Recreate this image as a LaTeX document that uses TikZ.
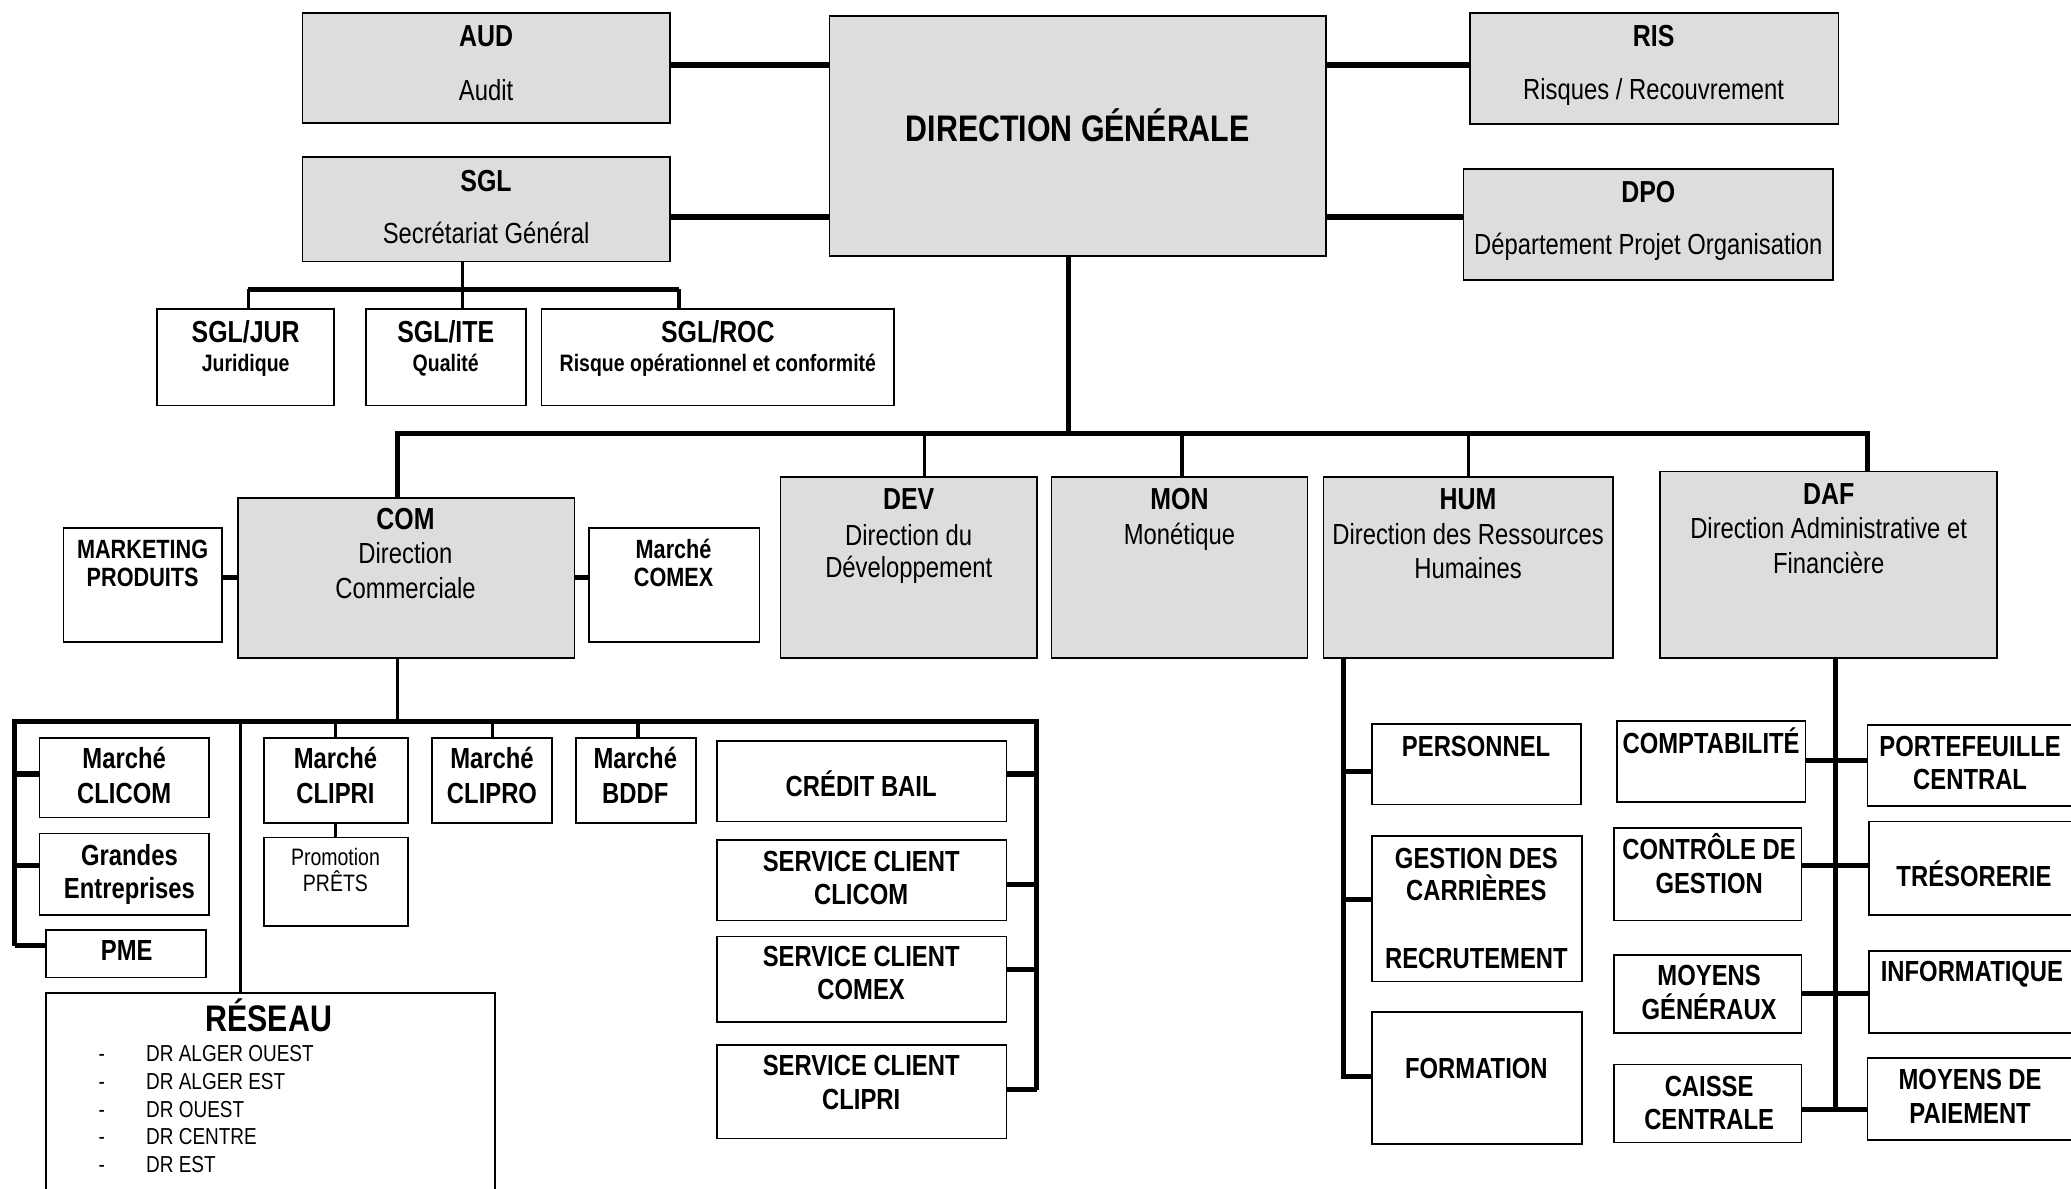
\documentclass[tikz,border=0pt]{standalone}
\usepackage{fontspec}
\setmainfont{Liberation Sans}[FakeStretch=0.82]
\usetikzlibrary{fit}
\definecolor{boxgray}{HTML}{DDDDDD}
\newcounter{tn}
\newcommand\txt[4]{\stepcounter{tn}\node[#1] (t\arabic{tn}) at (#2,#3) {#4};}
\tikzset{
 gbox/.style={draw=black, line width=1.3pt, fill=boxgray, inner sep=0pt, outer sep=0pt},
 wbox/.style={draw=black, line width=1.3pt, fill=white, inner sep=0pt, outer sep=0pt},
 conn/.style={line width=3.8pt},
 fat/.style={line width=4.5pt},
 thinc/.style={line width=2.6pt},
 T/.style={inner sep=0pt, anchor=base},
 fDG/.style={T, font=\fontsize{28}{32}\selectfont\bfseries},
 fH/.style={T, font=\fontsize{23}{27}\selectfont\bfseries},
 fR/.style={T, font=\fontsize{22}{26}\selectfont},
 fB/.style={T, font=\fontsize{22}{26}\selectfont\bfseries},
 fS/.style={T, font=\fontsize{18}{21}\selectfont\bfseries},
 fM/.style={T, font=\fontsize{20}{24}\selectfont\bfseries},
 fP/.style={T, font=\fontsize{18}{21}\selectfont},
 fL/.style={inner sep=0pt, anchor=base west, font=\fontsize{17.5}{20}\selectfont},
 fD/.style={inner sep=0pt, anchor=base, font=\fontsize{17.5}{20}\selectfont},
}
\begin{document}
\begin{tikzpicture}[x=1pt,y=-1pt]
\useasboundingbox (0,0) rectangle (1568,900);
\fill[white] (0,0) rectangle (1568,900);
% ---------- boxes ----------
\node[gbox, fit={(229,10)(507,93)}] (aud) {};
\node[gbox, fit={(229,119)(507,198)}] (sgl) {};
\node[gbox, fit={(628,12)(1004,194)}] (dg) {};
\node[gbox, fit={(1113,10)(1392,94)}] (ris) {};
\node[gbox, fit={(1108,128)(1388,212)}] (dpo) {};
\node[wbox, fit={(119,234)(253,307)}] (jur) {};
\node[wbox, fit={(277,234)(398,307)}] (ite) {};
\node[wbox, fit={(410,234)(677,307)}] (roc) {};
\node[gbox, fit={(180,377)(435,498)}] (com) {};
\node[gbox, fit={(591,361)(785,498)}] (dev) {};
\node[gbox, fit={(796,361)(990,498)}] (mon) {};
\node[gbox, fit={(1002,361)(1221,498)}] (hum) {};
\node[gbox, fit={(1257,357)(1512,498)}] (daf) {};
\node[wbox, fit={(48,400)(168,486)}] (mkt) {};
\node[wbox, fit={(446,400)(575,486)}] (cmx) {};
\node[wbox, fit={(30,559)(158,619)}] (clicom) {};
\node[wbox, fit={(30,631)(158,693)}] (ge) {};
\node[wbox, fit={(35,704)(156,740)}] (pme) {};
\node[wbox, fit={(200,559)(309,623)}] (clipri) {};
\node[wbox, fit={(200,634)(309,701)}] (promo) {};
\node[wbox, fit={(327,559)(418,623)}] (clipro) {};
\node[wbox, fit={(436,559)(527,623)}] (bddf) {};
\node[wbox, fit={(543,561)(762,622)}] (cb) {};
\node[wbox, fit={(543,636)(762,697)}] (scclicom) {};
\node[wbox, fit={(543,709)(762,774)}] (sccomex) {};
\node[wbox, fit={(543,791)(762,862)}] (scclipri) {};
\node[wbox, fit={(35,752)(375,925)}] (reseau) {};
\node[wbox, fit={(1039,548)(1197,609)}] (pers) {};
\node[wbox, fit={(1039,633)(1198,743)}] (gdc) {};
\node[wbox, fit={(1039,766)(1198,866)}] (form) {};
\node[wbox, fit={(1224,546)(1367,607)}] (compta) {};
\node[wbox, fit={(1222,627)(1364,697)}] (cdg) {};
\node[wbox, fit={(1222,723)(1364,782)}] (mg) {};
\node[wbox, fit={(1222,806)(1364,865)}] (cc) {};
\node[wbox, fit={(1414,549)(1580,610)}] (pfc) {};
\node[wbox, fit={(1415,622)(1580,693)}] (treso) {};
\node[wbox, fit={(1415,720)(1580,782)}] (info) {};
\node[wbox, fit={(1414,801)(1580,863)}] (mdp) {};
% ---------- junction coordinates ----------
\coordinate (b1l) at (301,328);
\coordinate (b1r) at (1414,328);
\coordinate (b1m) at (809,328);
\coordinate (s1m) at (350,219);
\coordinate (b2m) at (301,546);
\coordinate (b2l) at (11,546);
\coordinate (b2r) at (785,546);
% ---------- connectors ----------
\draw[fat] (aud.east |- 0,49) -- (dg.west |- 0,49);
\draw[fat] (sgl.east |- 0,164) -- (dg.west |- 0,164);
\draw[fat] (dg.east |- 0,49) -- (ris.west |- 0,49);
\draw[fat] (dg.east |- 0,164) -- (dpo.west |- 0,164);
\draw[line width=4.2pt] (dg.south -| b1m) -- (b1m);
\draw[conn] (b1l |- com.north) -- (b1l) -- (b1r) -- (b1r |- daf.north);
\draw[thinc] (700,328) -- (dev.north -| 700,0);
\draw[thinc] (895,328) -- (mon.north -| 895,0);
\draw[thinc] (1112,328) -- (hum.north -| 1112,0);
% SGL tree
\draw[line width=2.5pt] (sgl.south -| s1m) -- (s1m);
\draw[line width=3.5pt] (188,219) -- (514,219);
\draw[line width=2.5pt] (188,219) -- (jur.north -| 188,0);
\draw[line width=2.5pt] (s1m) -- (ite.north -| s1m);
\draw[line width=2.5pt] (514,219) -- (roc.north -| 514,0);
% COM sides
\draw[conn] (mkt.east |- 0,437) -- (com.west |- 0,437);
\draw[conn] (com.east |- 0,437) -- (cmx.west |- 0,437);
% COM tree
\draw[thinc] (com.south -| b2m) -- (b2m);
\draw[conn] (11,716) -- (b2l) -- (b2r) -- (785,825);
\draw[conn] (11,586) -- (clicom.west |- 0,586);
\draw[conn] (11,655) -- (ge.west |- 0,655);
\draw[conn] (11,716) -- (pme.west |- 0,716);
\draw[thinc] (182,546) -- (reseau.north -| 182,0);
\draw[thinc] (254,546) -- (clipri.north -| 254,0);
\draw[thinc] (373,546) -- (clipro.north -| 373,0);
\draw[thinc] (483,546) -- (bddf.north -| 483,0);
\draw[thinc] (clipri.south -| 254,0) -- (promo.north -| 254,0);
\draw[conn] (785,586) -- (cb.east |- 0,586);
\draw[conn] (785,670) -- (scclicom.east |- 0,670);
\draw[conn] (785,734) -- (sccomex.east |- 0,734);
\draw[conn] (785,825) -- (scclipri.east |- 0,825);
% HUM tree
\draw[conn] (hum.south -| 1017,0) -- (1017,815) -- (form.west |- 0,815);
\draw[conn] (1017,584) -- (pers.west |- 0,584);
\draw[conn] (1017,681) -- (gdc.west |- 0,681);
% DAF tree
\draw[conn] (daf.south -| 1390,0) -- (1390,840);
\draw[conn] (compta.east |- 0,576) -- (pfc.west |- 0,576);
\draw[conn] (cdg.east |- 0,655) -- (treso.west |- 0,655);
\draw[conn] (mg.east |- 0,752) -- (info.west |- 0,752);
\draw[conn] (cc.east |- 0,840) -- (mdp.west |- 0,840);
% ---------- texts ----------
\txt{fH}{368}{35}{AUD}
\txt{fR}{368}{76}{Audit}
\txt{fH}{368}{145}{SGL}
\txt{fR}{368}{184}{Secrétariat Général}
\txt{fDG}{816}{107}{DIRECTION GÉNÉRALE}
\txt{fH}{1252}{35}{RIS}
\txt{fR}{1252}{75}{Risques / Recouvrement}
\txt{fH}{1248}{153}{DPO}
\txt{fR}{1248}{193}{Département Projet Organisation}
\txt{fH}{186}{259}{SGL/JUR}
\txt{fS}{186}{281}{Juridique}
\txt{fH}{337.5}{259}{SGL/ITE}
\txt{fS}{337.5}{281}{Qualité}
\txt{fH}{543.5}{259}{SGL/ROC}
\txt{fS}{543.5}{281}{Risque opérationnel et conformité}
\txt{fH}{307}{401}{COM}
\txt{fR}{307}{427}{Direction}
\txt{fR}{307}{453}{Commerciale}
\txt{fH}{688}{386}{DEV}
\txt{fR}{688}{413}{Direction du}
\txt{fR}{688}{437}{Développement}
\txt{fH}{893}{386}{MON}
\txt{fR}{893}{412}{Monétique}
\txt{fH}{1111.5}{386}{HUM}
\txt{fR}{1111.5}{412}{Direction des Ressources}
\txt{fR}{1111.5}{438}{Humaines}
\txt{fH}{1384.5}{382}{DAF}
\txt{fR}{1384.5}{408}{Direction Administrative et}
\txt{fR}{1384.5}{434}{Financière}
\txt{fM}{108}{422.6}{MARKETING}
\txt{fM}{108}{444}{PRODUITS}
\txt{fM}{510}{422.6}{Marché}
\txt{fM}{510}{444}{COMEX}
\txt{fB}{94}{581.6}{Marché}
\txt{fB}{94}{608}{CLICOM}
\txt{fB}{98}{655}{Grandes}
\txt{fB}{98}{680}{Entreprises}
\txt{fB}{96}{727}{PME}
\txt{fB}{254}{581.6}{Marché}
\txt{fB}{254}{608}{CLIPRI}
\txt{fP}{254}{655}{Promotion}
\txt{fP}{254}{675}{PRÊTS}
\txt{fB}{372.5}{581.6}{Marché}
\txt{fB}{372.5}{608}{CLIPRO}
\txt{fB}{481}{581.6}{Marché}
\txt{fB}{481}{608}{BDDF}
\txt{fB}{652}{603}{CRÉDIT BAIL}
\txt{fB}{652}{660}{SERVICE CLIENT}
\txt{fB}{652}{685}{CLICOM}
\txt{fB}{652}{732}{SERVICE CLIENT}
\txt{fB}{652}{757}{COMEX}
\txt{fB}{652}{814}{SERVICE CLIENT}
\txt{fB}{652}{840}{CLIPRI}
\txt{fDG}{203.5}{781}{RÉSEAU}
\txt{fD}{77}{804}{-}
\txt{fL}{110.5}{804}{DR ALGER OUEST}
\txt{fD}{77}{825}{-}
\txt{fL}{110.5}{825}{DR ALGER EST}
\txt{fD}{77}{846}{-}
\txt{fL}{110.5}{846}{DR OUEST}
\txt{fD}{77}{866.5}{-}
\txt{fL}{110.5}{866.5}{DR CENTRE}
\txt{fD}{77}{888}{-}
\txt{fL}{110.5}{888}{DR EST}
\txt{fB}{1117.6}{572.4}{PERSONNEL}
\txt{fB}{1117.8}{657.3}{GESTION DES}
\txt{fB}{1117.8}{682}{CARRIÈRES}
\txt{fB}{1117.8}{733}{RECRUTEMENT}
\txt{fB}{1117.8}{816.4}{FORMATION}
\txt{fB}{1295.5}{570.4}{COMPTABILITÉ}
\txt{fB}{1294}{651}{CONTRÔLE DE}
\txt{fB}{1294}{676.4}{GESTION}
\txt{fB}{1294}{746.5}{MOYENS}
\txt{fB}{1294}{771.7}{GÉNÉRAUX}
\txt{fB}{1294}{829.8}{CAISSE}
\txt{fB}{1294}{855}{CENTRALE}
\txt{fB}{1491.6}{572.4}{PORTEFEUILLE}
\txt{fB}{1491.6}{598}{CENTRAL}
\txt{fB}{1494.5}{670.8}{TRÉSORERIE}
\txt{fB}{1493}{743.2}{INFORMATIQUE}
\txt{fB}{1491.6}{824.8}{MOYENS DE}
\txt{fB}{1491.6}{850.5}{PAIEMENT}
\end{tikzpicture}
\end{document}
